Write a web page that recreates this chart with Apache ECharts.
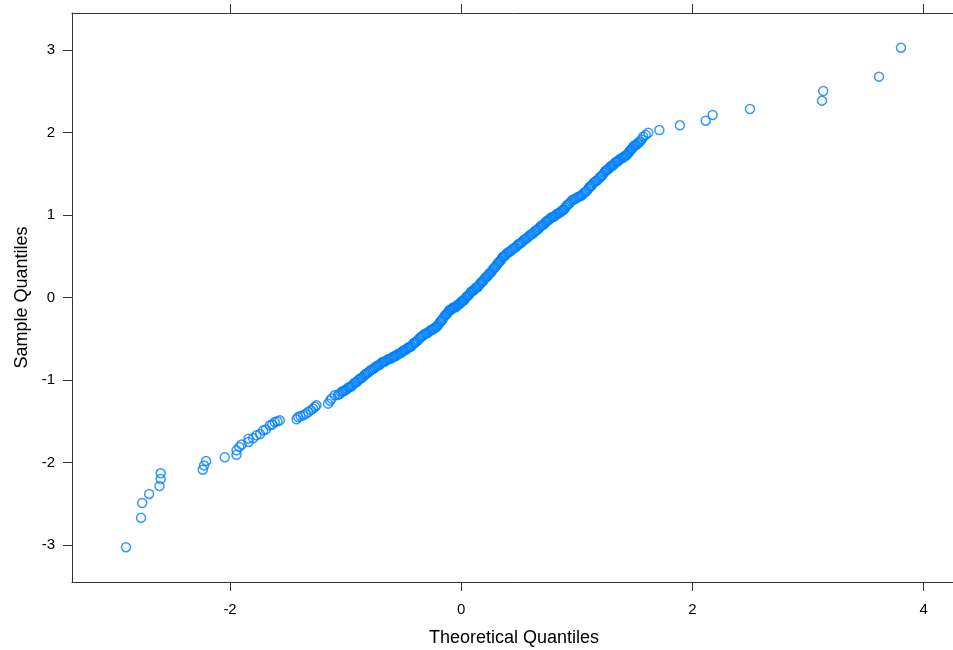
<!DOCTYPE html>
<html>
<head>
<meta charset="utf-8">
<script src="https://cdn.jsdelivr.net/npm/echarts@6/dist/echarts.min.js"></script>
<style>html,body{margin:0;padding:0;background:#fff;}#c{width:953px;height:650px;}</style>
</head>
<body>
<div id="c"></div>
<script>
var theoretical = [
-2.90,-2.77,-2.76,-2.70,-2.61,-2.60,-2.60,-2.236,-2.225,-2.207,-2.046,-1.944,-1.944,-1.92,-1.90,-1.84,-1.84,-1.80,-1.771,-1.74,-1.714,-1.69,-1.656,-1.635,-1.613,-1.59,-1.57,
-1.425,-1.411,-1.39,-1.368,-1.345,-1.325,-1.30,-1.282,-1.265,-1.252,-1.152,-1.135,-1.122,-1.094,
-1.065,-1.04,-1.015,-0.99,-0.965,-0.94,-0.915,-0.89,-0.865,-0.84,-0.82,-0.795,-0.77,-0.745,-0.72,-0.695,-0.675,-0.65,-0.625,-0.60,-0.58,-0.56,-0.535,-0.51,-0.49,-0.465,-0.445,-0.42,-0.40,-0.375,-0.35,-0.33,-0.305,-0.28,-0.255,-0.235,-0.214,-0.195,-0.175,-0.157,-0.135,-0.115,-0.099,-0.08,-0.06,-0.04,-0.02,0.0,0.016,
0.035,0.055,0.075,0.095,0.115,0.135,0.155,0.175,0.195,0.215,0.235,0.25,0.27,0.29,0.31,0.33,0.35,0.365,0.385,0.41,0.435,0.46,0.485,0.507,0.53,0.555,0.58,0.605,0.63,0.652,0.675,0.70,0.725,0.745,0.767,0.79,0.815,0.84,0.86,0.882,0.90,0.925,0.95,0.975,1.0,1.025,1.05,1.075,1.10,1.12,1.141,1.165,1.19,1.21,1.235,1.257,1.28,1.30,1.32,1.344,1.365,1.39,1.41,1.43,1.45,1.47,1.487,1.505,1.525,1.545,1.574,1.595,1.617,
1.713,1.891,2.114,2.174,2.497,3.12,3.131,3.613,3.803
];
var sample = [
-3.025,-2.67,-2.49,-2.38,-2.285,-2.20,-2.13,-2.086,-2.034,-1.98,-1.937,-1.905,-1.852,-1.81,-1.78,-1.75,-1.71,-1.705,-1.67,-1.655,-1.61,-1.60,-1.549,-1.54,-1.509,-1.50,-1.488,
-1.476,-1.448,-1.435,-1.428,-1.41,-1.388,-1.365,-1.346,-1.325,-1.306,-1.286,-1.25,-1.225,-1.185,
-1.18,-1.15,-1.13,-1.11,-1.085,-1.06,-1.03,-1.00,-0.975,-0.945,-0.92,-0.895,-0.87,-0.845,-0.825,-0.80,-0.78,-0.765,-0.745,-0.73,-0.715,-0.70,-0.68,-0.655,-0.64,-0.615,-0.60,-0.57,-0.545,-0.515,-0.48,-0.457,-0.435,-0.415,-0.39,-0.375,-0.356,-0.32,-0.285,-0.25,-0.21,-0.18,-0.15,-0.135,-0.12,-0.105,-0.08,-0.055,-0.04,
-0.01,0.02,0.05,0.08,0.10,0.12,0.15,0.185,0.215,0.245,0.275,0.295,0.33,0.365,0.40,0.435,0.47,0.495,0.52,0.55,0.575,0.60,0.63,0.655,0.68,0.71,0.735,0.765,0.79,0.815,0.845,0.875,0.905,0.93,0.955,0.975,0.995,1.02,1.04,1.06,1.09,1.13,1.165,1.19,1.21,1.225,1.25,1.28,1.32,1.35,1.383,1.41,1.44,1.47,1.51,1.545,1.57,1.595,1.615,1.645,1.665,1.69,1.705,1.725,1.76,1.795,1.825,1.845,1.865,1.89,1.948,1.97,1.996,
2.029,2.086,2.142,2.211,2.284,2.385,2.502,2.676,3.027
];
// additional points
var theoreticalBand = [
-1.052,-1.027,-1.002,-0.977,-0.952,-0.927,-0.902,-0.877,-0.852,-0.83,-0.807,-0.782,-0.757,-0.732,-0.707,-0.685,-0.662,-0.637,-0.612,-0.59,-0.57,-0.547,-0.522,-0.50,-0.477,-0.455,-0.432,-0.41,-0.387,-0.362,-0.34,-0.317,-0.292,-0.267,-0.245,-0.224,-0.204,-0.185,-0.166,-0.146,-0.125,-0.107,-0.09,-0.07,-0.05,-0.03,-0.01,0.008,0.026,
0.045,0.065,0.085,0.105,0.125,0.145,0.165,0.185,0.205,0.225,0.243,0.26,0.28,0.30,0.32,0.34,0.358,0.375,0.397,0.422,0.447,0.472,0.496,0.518,0.542,0.567,0.592,0.617,0.641,0.663,0.687,0.712,0.735,0.756,0.778,0.802,0.827,0.85,0.871,0.891,0.912,0.937,0.962,0.987,1.012,1.037,1.062,1.087,1.11,1.13,1.153,1.177,1.2,1.222,1.246,1.268,1.29,1.31,1.332,1.354,1.377,1.4,1.42,1.44,1.46,1.478,1.496,1.515,1.535,1.56
];
var sampleBand = [
-1.17,-1.135,-1.125,-1.09,-1.078,-1.04,-1.02,-0.985,-0.965,-0.93,-0.91,-0.88,-0.862,-0.83,-0.815,-0.785,-0.777,-0.75,-0.742,-0.718,-0.71,-0.685,-0.672,-0.643,-0.63,-0.603,-0.59,-0.552,-0.535,-0.493,-0.472,-0.442,-0.43,-0.398,-0.385,-0.36,-0.342,-0.298,-0.272,-0.226,-0.2,-0.16,-0.148,-0.122,-0.118,-0.088,-0.072,-0.042,-0.03,
0.01,0.03,0.07,0.085,0.118,0.13,0.172,0.195,0.235,0.255,0.29,0.308,0.352,0.378,0.422,0.448,0.49,0.503,0.54,0.558,0.592,0.61,0.648,0.662,0.7,0.718,0.755,0.772,0.808,0.825,0.865,0.885,0.922,0.938,0.97,0.98,1.013,1.025,1.055,1.07,1.115,1.142,1.182,1.195,1.222,1.232,1.27,1.295,1.34,1.36,1.4,1.42,1.46,1.485,1.532,1.552,1.588,1.6,1.635,1.65,1.682,1.695,1.72,1.74,1.782,1.805,1.838,1.85,1.88,1.915
];
var xTicks = [-2, 0, 2, 4];
var yTicks = [-3, -2, -1, 0, 1, 2, 3];

var points = theoretical.map(function (x, i) { return [x, sample[i]]; })
  .concat(theoreticalBand.map(function (x, i) { return [x, sampleBand[i]]; }));
var FONT = '"Liberation Sans", Arial, sans-serif';
var axisLineStyle = { color: '#333', width: 1 };

var chart = echarts.init(document.getElementById('c'), null, { renderer: 'canvas' });
var xCommon = {
  type: 'value', min: -3.367, max: 4.279,
  splitLine: { show: false },
  axisLine: { show: true, onZero: false, lineStyle: axisLineStyle },
  axisTick: { show: true, inside: false, length: 9, lineStyle: axisLineStyle, customValues: xTicks }
};
chart.setOption({
  animation: false,
  backgroundColor: '#fff',
  grid: { left: 72, top: 13, right: -3, bottom: 68, containLabel: false, outerBoundsMode: 'none' },
  xAxis: [
    Object.assign({}, xCommon, {
      position: 'bottom',
      name: 'Theoretical Quantiles', nameLocation: 'middle', nameGap: 47,
      nameTextStyle: { fontSize: 18, color: '#000', fontFamily: FONT },
      axisLabel: { show: true, customValues: xTicks, fontSize: 15, color: '#000', fontFamily: FONT, margin: 20 }
    }),
    Object.assign({}, xCommon, {
      position: 'top',
      axisLabel: { show: false }
    })
  ],
  yAxis: [{
    type: 'value', min: -3.447, max: 3.447,
    splitLine: { show: false },
    axisLine: { show: true, onZero: false, lineStyle: axisLineStyle },
    axisTick: { show: true, inside: false, length: 9, lineStyle: axisLineStyle, customValues: yTicks },
    axisLabel: { show: true, customValues: yTicks, fontSize: 15, color: '#000', fontFamily: FONT, margin: 17 },
    name: 'Sample Quantiles', nameLocation: 'middle', nameGap: 39,
    nameTextStyle: { fontSize: 18, color: '#000', fontFamily: FONT }
  }],
  series: [{
    type: 'scatter',
    xAxisIndex: 0, yAxisIndex: 0,
    data: points,
    symbol: 'circle',
    symbolSize: 9,
    itemStyle: { color: 'rgba(0,0,0,0)', borderColor: '#0080ff', borderWidth: 1.5 },
    emphasis: { disabled: true },
    silent: true
  }]
});
</script>
</body>
</html>
